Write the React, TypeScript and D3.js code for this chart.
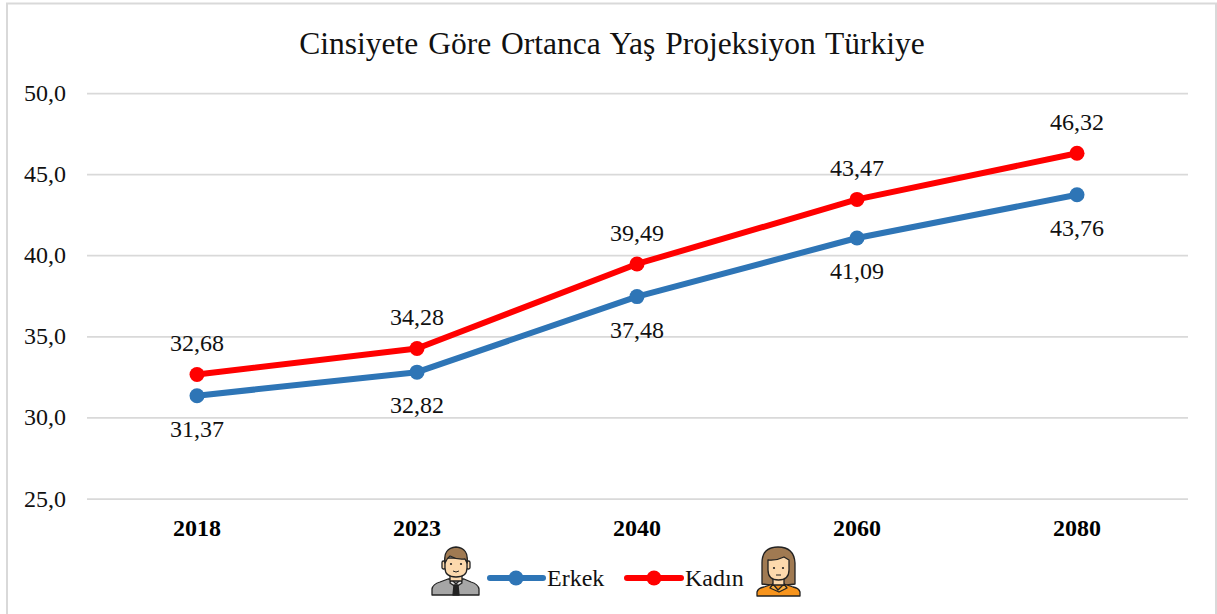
import React from "react";
import * as d3 from "d3";

const categories = ["2018", "2023", "2040", "2060", "2080"];
const erkek = [31.37, 32.82, 37.48, 41.09, 43.76];
const kadin = [32.68, 34.28, 39.49, 43.47, 46.32];
const yTicks = [25, 30, 35, 40, 45, 50];
const title = "Cinsiyete Göre Ortanca Yaş Projeksiyon Türkiye";
const FONT = "'Liberation Serif', serif";
const BLUE = "#2e75b6";
const RED = "#ff0000";
const fmt = (v: number) => v.toFixed(2).replace(".", ",");

function Man({ x, y }: { x: number; y: number }) {
  return (
    <g transform={`translate(${x},${y})`} stroke="#222" strokeWidth={1.3} strokeLinejoin="round">
      <path d="M1 49 V43 Q2 38 9 36 L17 33 H33 L40 36 Q47 38 48 43 V49 Z" fill="#a6a6a6" />
      <path d="M20 33 L25 38 L30 33 L31 37 L25 41 L19 37 Z" fill="#e0e0e0" />
      <path d="M23 39 H27 L28 49 H22 Z" fill="#222" />
      <rect x="19" y="26" width="12" height="9" fill="#fcd9ad" />
      <rect x="11" y="15" width="3.5" height="8" rx="1.5" fill="#fcd9ad" />
      <rect x="35.5" y="15" width="3.5" height="8" rx="1.5" fill="#fcd9ad" />
      <path d="M14 12 H36 V22 Q36 31 25 31 Q14 31 14 22 Z" fill="#fcd9ad" />
      <path d="M14 17 Q12 2 25 1 Q38 2 36 17 L34 13 Q26 14 19 10 Q16 12 14 17 Z" fill="#a07a52" />
      <circle cx="20" cy="18" r="1.1" fill="#222" stroke="none" />
      <circle cx="30" cy="18" r="1.1" fill="#222" stroke="none" />
      <path d="M22 25 Q25 27 28 25" fill="none" strokeWidth={1} />
    </g>
  );
}

function Woman({ x, y }: { x: number; y: number }) {
  return (
    <g transform={`translate(${x},${y})`} stroke="#222" strokeWidth={1.3} strokeLinejoin="round">
      <path d="M6 38 V17 Q6 1 22 1 Q38 1 39 17 V38 Q22 41 6 38 Z" fill="#a07a52" />
      <path d="M1 50 V46 Q2 42 8 41 L17 38 H28 L37 41 Q43 42 44 46 V50 Z" fill="#f7941d" />
      <path d="M17 38 L22 44 L28 38 L31 42 L23 46 L14 42 Z" fill="#fbb040" />
      <rect x="17" y="30" width="11" height="9" fill="#fcd9ad" />
      <path d="M12 14 Q20 15 28 11 L33 14 V24 Q33 34 22.5 34 Q12 34 12 24 Z" fill="#fcd9ad" />
      <circle cx="18" cy="22" r="1.1" fill="#222" stroke="none" />
      <circle cx="27" cy="22" r="1.1" fill="#222" stroke="none" />
      <path d="M20 29 H25" fill="none" strokeWidth={1} />
    </g>
  );
}

export default function App() {
  const x = d3.scalePoint<string>().domain(categories).range([197, 1077]);
  const y = d3.scaleLinear().domain([25, 50]).range([499, 93.5]);
  const line = d3
    .line<number>()
    .x((_, i) => x(categories[i]) as number)
    .y((d) => y(d));
  return (
    <svg
      width={1217}
      height={614}
      style={{ position: "absolute", left: 0, top: 0, background: "#fff", fontFamily: FONT }}
    >
      <rect x={7} y={3.5} width={1209} height={640} fill="#fff" stroke="#d9d9d9" strokeWidth={2} />
      <text x={612} y={54} textAnchor="middle" fontSize={31.5} fill="#111" wordSpacing={2}>
        {title}
      </text>
      {yTicks.map((t) => (
        <g key={t}>
          <line x1={87} x2={1188} y1={y(t)} y2={y(t)} stroke="#d9d9d9" strokeWidth={1.75} />
          <text x={66} y={y(t) + 7.5} textAnchor="end" fontSize={24} fill="#111">
            {t.toFixed(1).replace(".", ",")}
          </text>
        </g>
      ))}
      {categories.map((c) => (
        <text key={c} x={x(c)} y={536} textAnchor="middle" fontSize={24} fontWeight="bold" fill="#000">
          {c}
        </text>
      ))}
      <path d={line(erkek) as string} fill="none" stroke={BLUE} strokeWidth={6} strokeLinecap="round" strokeLinejoin="round" />
      <path d={line(kadin) as string} fill="none" stroke={RED} strokeWidth={6} strokeLinecap="round" strokeLinejoin="round" />
      {erkek.map((v, i) => (
        <g key={categories[i]}>
          <circle cx={x(categories[i])} cy={y(v)} r={7.5} fill={BLUE} />
          <text x={x(categories[i])} y={y(v) + 41} textAnchor="middle" fontSize={24} fill="#111">
            {fmt(v)}
          </text>
        </g>
      ))}
      {kadin.map((v, i) => (
        <g key={categories[i]}>
          <circle cx={x(categories[i])} cy={y(v)} r={7.5} fill={RED} />
          <text x={x(categories[i])} y={y(v) - 23} textAnchor="middle" fontSize={24} fill="#111">
            {fmt(v)}
          </text>
        </g>
      ))}
      <Man x={431} y={546} />
      <line x1={490} x2={543} y1={578} y2={578} stroke={BLUE} strokeWidth={6} strokeLinecap="round" />
      <circle cx={516} cy={578} r={7.5} fill={BLUE} />
      <text x={547} y={586} fontSize={24} fill="#111">Erkek</text>
      <line x1={627} x2={681} y1={578} y2={578} stroke={RED} strokeWidth={6} strokeLinecap="round" />
      <circle cx={654} cy={578} r={7.5} fill={RED} />
      <text x={685} y={586} fontSize={24} fill="#111">Kadın</text>
      <Woman x={756} y={546} />
    </svg>
  );
}
